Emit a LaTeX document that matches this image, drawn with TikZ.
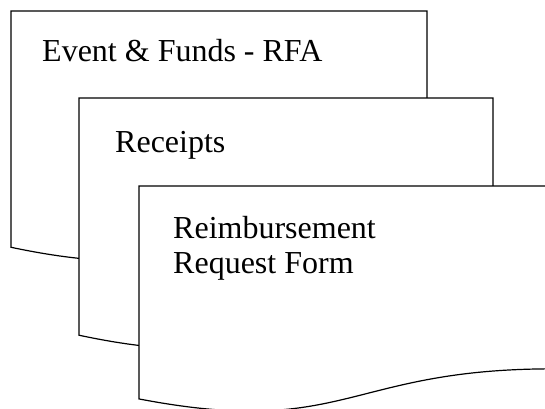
\documentclass[tikz,border=0pt]{standalone}
\usepackage{fontspec}
\setmainfont{Liberation Serif}
\begin{document}
\begin{tikzpicture}[x=1pt,y=-1pt,
  docshape/.style={draw=black,fill=white,line width=1.2pt,line join=miter},
  doclabel/.style={anchor=base west,inner sep=0pt,align=left,
    font=\fontsize{32}{35}\selectfont}]
\useasboundingbox (0,0) rectangle (545,408);
\clip (0,0) rectangle (545,408);
% doc shape macro parameters: x0,y0,W,H
\newcommand\docpath[4]{%
  \path[docshape] (#1,#2) -- ({#1+#3},#2) -- ({#1+#3},{#2+0.80194*#4})
    .. controls ({#1+0.5*#3},{#2+0.80194*#4}) and ({#1+0.5*#3},{#2+1.1075*#4})
    .. (#1,{#2+0.93389*#4}) -- cycle;}
\docpath{11}{11}{416}{253}
\node[doclabel] (rfa) at (42,61) {Event \& Funds - RFA};
\docpath{79}{98}{414}{254}
\node[doclabel] (receipts) at (115,152) {Receipts};
\docpath{139}{186}{414}{228}
\node[doclabel] (rrf) at (173,273) {Reimbursement\\Request Form};
\end{tikzpicture}
\end{document}
